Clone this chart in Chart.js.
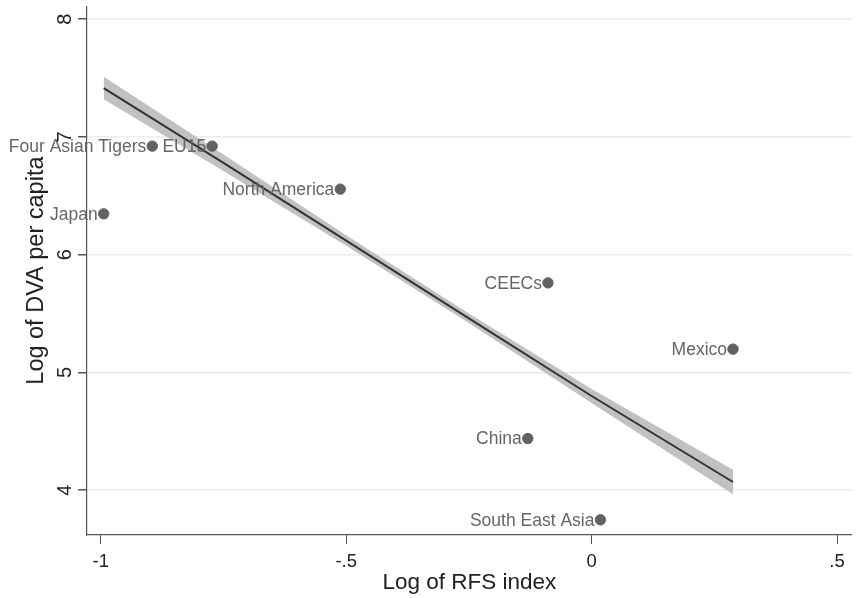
<!DOCTYPE html>
<html lang="en">
<head>
  <meta charset="UTF-8">
  <title>Log of DVA per capita vs Log of RFS index</title>
  <script src="https://cdn.jsdelivr.net/npm/chart.js"></script>
  <style>
    html, body { margin: 0; padding: 0; background: #fff; }
    #wrap { width: 858px; height: 598px; }
  </style>
</head>
<body>
  <div id="wrap"><canvas id="myChart" width="858" height="598"></canvas></div>

  <script>
    // Regions and their values
    const regions = ['Japan', 'Four Asian Tigers', 'EU15', 'North America', 'CEECs', 'Mexico', 'China', 'South East Asia'];
    const rfsIndex = [-0.994, -0.895, -0.773, -0.512, -0.089, 0.288, -0.130, 0.018];
    const dvaPerCapita = [6.347, 6.922, 6.922, 6.557, 5.761, 5.198, 4.439, 3.749];

    // Fitted line and its confidence band, read at a few x positions
    const fitX = [-0.994, -0.75, -0.5, -0.25, 0, 0.288];
    const fitY = [7.415, 6.78, 6.12, 5.46, 4.80, 4.07];
    const bandUpper = [7.51, 6.85, 6.165, 5.50, 4.86, 4.175];
    const bandLower = [7.32, 6.71, 6.075, 5.42, 4.74, 3.965];

    const xTicks = [-1, -0.5, 0, 0.5];
    const yTicks = [4, 5, 6, 7, 8];

    const FONT = '"Liberation Sans", Arial, sans-serif';
    const toXY = (xs, ys) => xs.map((x, i) => ({ x: x, y: ys[i] }));
    const fmt = (v) => String(v).replace(/^(-?)0\./, '$1.');

    // Stata style: region names to the left of dots, y tick labels turned on their side
    const extraText = {
      id: 'extraText',
      afterDraw(chart) {
        const { ctx, scales } = chart;
        ctx.save();
        ctx.font = '17.5px ' + FONT;
        ctx.fillStyle = '#666';
        ctx.textAlign = 'right';
        ctx.textBaseline = 'middle';
        regions.forEach((name, i) => {
          const px = scales.x.getPixelForValue(rfsIndex[i]);
          const py = scales.y.getPixelForValue(dvaPerCapita[i]);
          ctx.fillText(name, px - 6, py + 1);
        });

        ctx.font = '20px ' + FONT;
        ctx.fillStyle = '#222';
        ctx.textAlign = 'center';
        yTicks.forEach((v) => {
          const py = scales.y.getPixelForValue(v);
          ctx.save();
          ctx.translate(64, py);
          ctx.rotate(-Math.PI / 2);
          ctx.fillText(String(v), 0, 1);
          ctx.restore();
        });
        ctx.restore();
      }
    };

    Chart.defaults.font.family = FONT;
    Chart.defaults.color = '#222';

    const ctx = document.getElementById('myChart').getContext('2d');
    const myChart = new Chart(ctx, {
      type: 'scatter',
      data: {
        datasets: [
          {
            label: 'upper',
            type: 'line',
            data: toXY(fitX, bandUpper),
            borderWidth: 0,
            pointRadius: 0,
            fill: false,
            order: 3
          },
          {
            label: 'lower',
            type: 'line',
            data: toXY(fitX, bandLower),
            borderWidth: 0,
            pointRadius: 0,
            backgroundColor: 'rgba(190, 190, 190, 0.95)',
            fill: '-1',
            order: 3
          },
          {
            label: 'fit',
            type: 'line',
            data: toXY(fitX, fitY),
            borderColor: '#333',
            borderWidth: 2,
            pointRadius: 0,
            fill: false,
            order: 2
          },
          {
            label: 'regions',
            data: toXY(rfsIndex, dvaPerCapita),
            backgroundColor: '#626262',
            borderColor: '#626262',
            pointRadius: 5.2,
            pointHoverRadius: 5.2,
            order: 1
          }
        ]
      },
      options: {
        responsive: false,
        animation: false,
        layout: { padding: 0 },
        plugins: {
          legend: { display: false },
          tooltip: { enabled: false }
        },
        scales: {
          x: {
            type: 'linear',
            min: -1.028,
            max: 0.53,
            afterBuildTicks: (s) => { s.ticks = xTicks.map(v => ({ value: v })); },
            afterFit: (s) => { s.height = 63; },
            ticks: {
              callback: (v) => fmt(v),
              font: { size: 18.5 },
              color: '#222',
              padding: 7,
              maxRotation: 0
            },
            grid: {
              drawOnChartArea: false,
              tickLength: 9,
              tickColor: '#555',
              lineWidth: 1
            },
            border: { color: '#555', width: 1.2 },
            title: {
              display: true,
              text: 'Log of RFS index',
              font: { size: 22.5 },
              color: '#222',
              padding: { top: 0, bottom: 2 }
            }
          },
          y: {
            type: 'linear',
            min: 3.62,
            max: 8.11,
            afterBuildTicks: (s) => { s.ticks = yTicks.map(v => ({ value: v })); },
            afterFit: (s) => { s.width = 87; },
            ticks: { display: false },
            grid: {
              color: '#ececec',
              tickLength: 9,
              tickColor: '#555',
              lineWidth: 1.5
            },
            border: { color: '#555', width: 1.2 },
            title: {
              display: true,
              text: 'Log of DVA per capita',
              font: { size: 23.5 },
              color: '#222',
              padding: { top: 22, bottom: 0 }
            }
          }
        }
      },
      plugins: [extraText]
    });
  </script>
</body>
</html>
